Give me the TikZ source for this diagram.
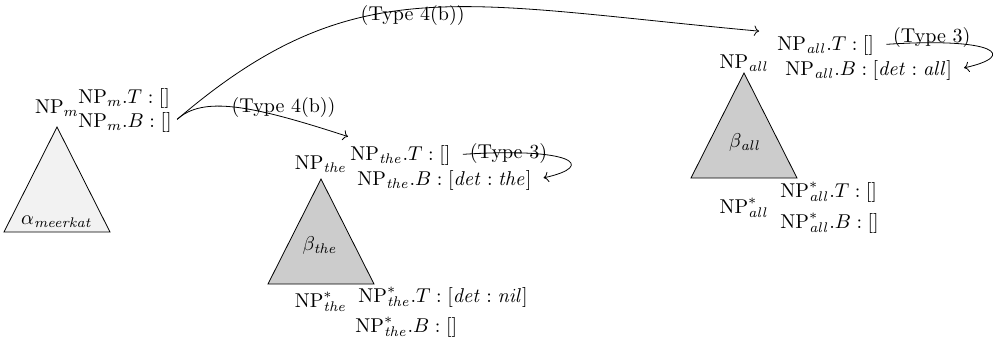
\documentclass[tikz,border=0pt]{standalone}
\usepackage{tikz}
\usetikzlibrary{arrows.meta}

\begin{document}
\begin{tikzpicture}[x=0.5pt,y=-0.5pt,
  feat/.style={anchor=base west,inner sep=1pt},
  nplabel/.style={anchor=base,inner sep=1pt},
  inittree/.style={draw,fill=gray!10},
  auxtree/.style={draw,fill=gray!40},
  oplabel/.style={inner sep=1pt},
]
\useasboundingbox (0,0) rectangle (997,343);

\draw[inittree] (57,127) -- (4,232) -- (110,232) -- cycle;
\node[nplabel] (alpha) at (57,224) {$\alpha_{\mathit{meerkat}}$};
\node[nplabel] (mL) at (57,113) {$\mathrm{NP}_{m}$};
\node[feat] (mT) at (76,103) {$\mathrm{NP}_{m}.T : []$};
\node[feat] (mB) at (76,127) {$\mathrm{NP}_{m}.B : []$};

\draw[auxtree] (321,179) -- (268,284) -- (374,284) -- cycle;
\node[nplabel] (bthe) at (320,250) {$\beta_{\mathit{the}}$};
\node[nplabel] (theL) at (321,169) {$\mathrm{NP}_{\mathit{the}}$};
\node[feat] (theT) at (348,160) {$\mathrm{NP}_{\mathit{the}}.T : []$};
\node[feat] (theB) at (355,185) {$\mathrm{NP}_{\mathit{the}}.B : [\mathit{det} : \mathit{the}]$};
\node[nplabel] (thefL) at (321,307) {$\mathrm{NP}^{*}_{\mathit{the}}$};
\node[feat] (thefT) at (356,302) {$\mathrm{NP}^{*}_{\mathit{the}}.T : [\mathit{det} : \mathit{nil}]$};
\node[feat] (thefB) at (353,332) {$\mathrm{NP}^{*}_{\mathit{the}}.B : []$};

\draw[auxtree] (744,73) -- (691,178) -- (797,178) -- cycle;
\node[nplabel] (ball) at (745,147) {$\beta_{\mathit{all}}$};
\node[nplabel] (allL) at (744,68) {$\mathrm{NP}_{\mathit{all}}$};
\node[feat] (allT) at (775,50) {$\mathrm{NP}_{\mathit{all}}.T : []$};
\node[feat] (allB) at (783,75) {$\mathrm{NP}_{\mathit{all}}.B : [\mathit{det} : \mathit{all}]$};
\node[nplabel] (allfL) at (744,213) {$\mathrm{NP}^{*}_{\mathit{all}}$};
\node[feat] (allfT) at (778,197) {$\mathrm{NP}^{*}_{\mathit{all}}.T : []$};
\node[feat] (allfB) at (778,228) {$\mathrm{NP}^{*}_{\mathit{all}}.B : []$};

\draw[->,shorten <=2pt,shorten >=8pt] (mB.east) .. controls +(180,-154) and +(-317,-29) .. node[oplabel,pos=0.48,yshift=-3pt] {(Type 4(b))} (allT.north west);
\draw[->,shorten <=2pt] (mB.east) .. controls +(29,-26) and +(-98,-32) .. node[oplabel,pos=0.75,yshift=5pt] {(Type 4(b))} ([yshift=3pt]theT.north west);
\draw[->,shorten <=5pt,shorten >=5pt] (theT.east) .. controls +(120,-8) and +(64,-14) .. node[oplabel,pos=0.18] {(Type 3)} (theB.east);
\draw[->,shorten <=5pt,shorten >=5pt] (allT.east) .. controls +(120,-8) and +(64,-14) .. node[oplabel,pos=0.18,yshift=3pt] {(Type 3)} (allB.east);
\end{tikzpicture}
\end{document}
